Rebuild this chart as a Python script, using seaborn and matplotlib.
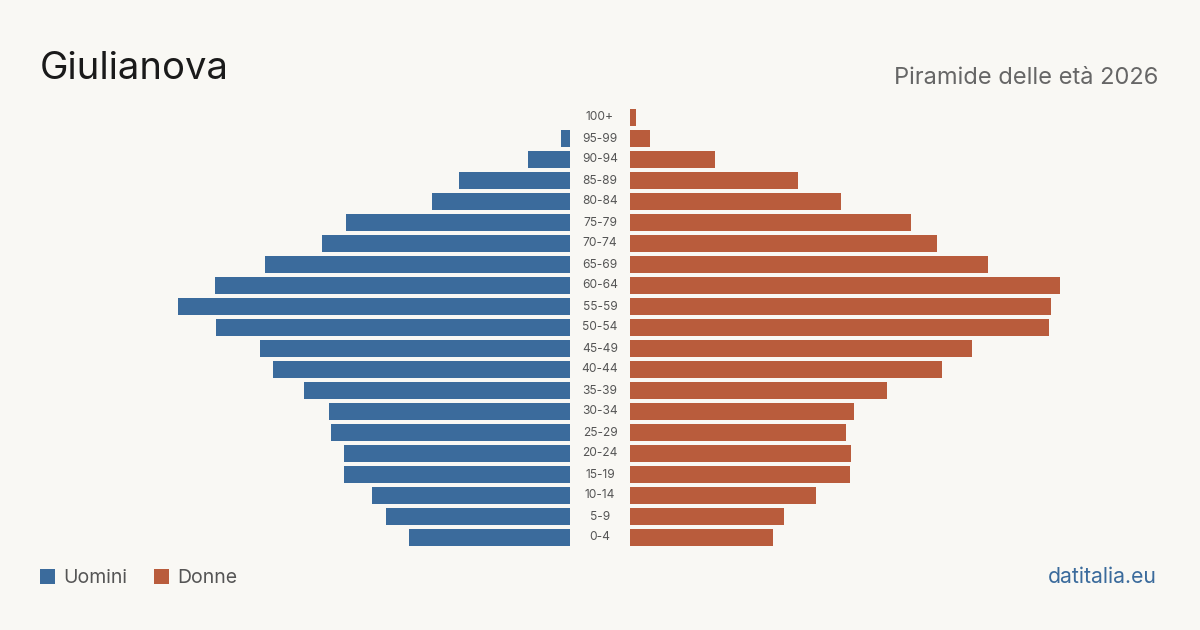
import matplotlib.pyplot as plt
import matplotlib.patches as mpatches
import pandas as pd
import seaborn as sns

# age classes, top of the pyramid first
ages = ['100+', '95-99', '90-94', '85-89', '80-84', '75-79', '70-74',
        '65-69', '60-64', '55-59', '50-54', '45-49', '40-44', '35-39',
        '30-34', '25-29', '20-24', '15-19', '10-14', '5-9', '0-4']
uomini = [0, 9, 42, 111, 138, 224, 248, 305, 355, 392, 354, 310, 297,
          266, 241, 239, 226, 226, 198, 184, 161]
donne = [6, 20, 85, 168, 211, 281, 307, 358, 430, 421, 419, 342, 312,
         257, 224, 216, 221, 220, 186, 154, 143]

blue = '#3b6b9c'
orange = '#b95c3c'
bg = '#f9f8f4'

data = pd.DataFrame({'age': ages, 'Uomini': uomini, 'Donne': donne})

sns.set_style('white')
plt.rcParams['font.family'] = ['Inter', 'DejaVu Sans']

fig = plt.figure(figsize=(12, 6.3), dpi=100)
fig.patch.set_facecolor(bg)

bottom = (630 - 548) / 630
height = 441 / 630
ax_m = fig.add_axes([170 / 1200, bottom, 400 / 1200, height])
ax_f = fig.add_axes([630 / 1200, bottom, 440 / 1200, height])

sns.barplot(data=data, x='Uomini', y='age', order=ages, color=blue,
            saturation=1, width=0.82, linewidth=0, ax=ax_m)
sns.barplot(data=data, x='Donne', y='age', order=ages, color=orange,
            saturation=1, width=0.82, linewidth=0, ax=ax_f)

ax_m.set_xlim(400, 0)
ax_f.set_xlim(0, 440)
for ax in (ax_m, ax_f):
    ax.set_facecolor('none')
    ax.set_xlabel('')
    ax.set_ylabel('')
    ax.set_xticks([])
    ax.set_yticks([])
    sns.despine(ax=ax, left=True, bottom=True)

# age labels in the gap between the two halves
for i, a in enumerate(ages):
    ax_f.text(-30, i, a, ha='center', va='center', fontsize=8.6,
              color='#555555', clip_on=False)

fig.text(40 / 1200, 1 - 79 / 630, 'Giulianova', fontsize=27.5,
         color='#1a1a1a', va='baseline', ha='left')
fig.text(1158 / 1200, 1 - 84 / 630, 'Piramide delle età 2026', fontsize=17,
         color='#666666', va='baseline', ha='right')
fig.text(1157 / 1200, 1 - 583 / 630, 'datitalia.eu', fontsize=15.3,
         color=blue, va='baseline', ha='right')

handles = [mpatches.Patch(color=blue, label='Uomini', linewidth=0),
           mpatches.Patch(color=orange, label='Donne', linewidth=0)]
fig.legend(handles=handles, loc='center left',
           bbox_to_anchor=(40 / 1200, 1 - 578 / 630), ncol=2, frameon=False,
           borderpad=0, borderaxespad=0,
           handlelength=0.78, handleheight=0.78, handletextpad=0.42,
           columnspacing=1.35, fontsize=14, labelcolor='#555555')

plt.savefig('out.png', dpi=100, facecolor=bg)
